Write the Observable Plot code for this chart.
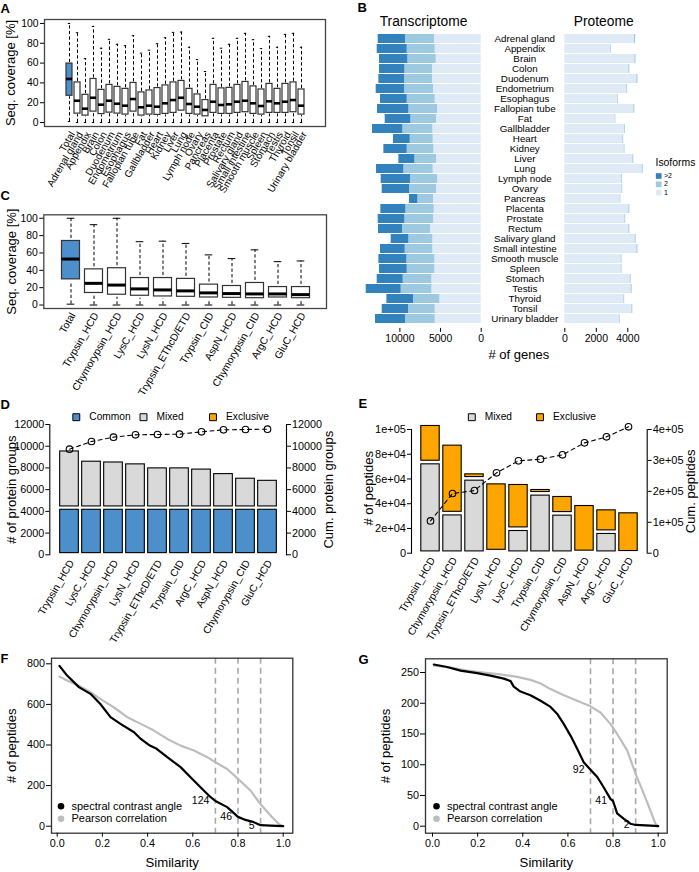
<!DOCTYPE html>
<html><head><meta charset="utf-8">
<script src="https://cdn.jsdelivr.net/npm/d3@7"></script>
<script src="https://cdn.jsdelivr.net/npm/@observablehq/plot@0.6"></script>
<style>
html,body{margin:0;padding:0;background:#fff;}
#fig{position:relative;width:699px;height:872px;overflow:hidden;}
#fig svg{position:absolute;left:0;top:0;}
</style></head><body><div id="fig"></div>
<script>
// ---------- DATA ----------
const tissues = ["Adrenal gland","Appendix","Brain","Colon","Duodenum","Endometrium","Esophagus","Fallopian tube","Fat","Gallbladder","Heart","Kidney","Liver","Lung","Lymph node","Ovary","Pancreas","Placenta","Prostate","Rectum","Salivary gland","Small intestine","Smooth muscle","Spleen","Stomach","Testis","Thyroid","Tonsil","Urinary bladder"];

// Panel A: sequence coverage boxplots per tissue
const aLabels = ["Total", ...tissues];
const aMax = [100, 90.6, 64.5, 97, 75, 84, 79, 77.6, 87.6, 70, 73, 79.6, 85.6, 91, 91.3, 76, 63.5, 51.5, 85, 75, 79, 85, 90, 83.6, 74.6, 87, 76, 89, 90, 76];
const aQ3  = [60.5, 41.5, 29, 45, 34, 39, 37, 35, 41, 31.4, 33.4, 35.8, 38.5, 41.5, 43, 35, 29.4, 23.7, 39, 35.5, 36, 39, 42, 37.5, 34.4, 40, 35, 40, 41.5, 34.4];
const aMed = [44, 22, 14, 25, 18, 22, 19, 17, 23.7, 15.4, 17, 16, 19.4, 22.7, 25, 18.7, 16, 12.7, 21, 17.7, 18.4, 21, 22, 19.4, 16.7, 21.4, 19.4, 21, 22.7, 17];
const aQ1  = [26, 8, 6, 10, 7.5, 9, 8, 7, 10, 6, 7, 6.7, 7.7, 8.7, 11, 7.7, 7, 5.3, 8.7, 7.7, 7.7, 8.7, 9.4, 7.7, 7, 8.7, 8.7, 8.7, 9.4, 7];
const aMin = [1, 0, 0, 0, 0, 0, 0, 0, 0, 0, 0, 0, 0, 0, 0, 0, 0, 0, 0, 0, 0, 0, 0, 0, 0, 0, 0, 0, 0, 0];

// Panel B: genes per isoform count
const isoKeys = [">2", "2", "1"];
const tx1 = [5740,5658,5535,5986,5986,5863,5658,5371,5494,5945,5904,5822,5494,5904,5371,5494,5863,5781,5863,6232,5945,5945,5699,5699,6068,6068,5084,5658,5658];
const tx2 = [3567,3444,3485,3403,3444,3567,3444,3526,3157,3690,2829,3280,2665,3608,3321,3321,1927,3485,3526,3444,2952,3403,3444,3403,3526,3772,3239,3280,3649];
const tx3 = [3362,3690,3485,3116,3157,3485,3280,3854,3157,3731,2050,2870,1968,3362,3608,3362,1025,3075,3280,2952,2173,3034,3444,3403,3198,4305,3280,3239,3690];
const px1 = [4427,2903,4448,4067,4575,3940,3369,4384,3199,3792,3686,3771,4321,4914,3601,3623,3517,4067,3813,4067,4469,4575,3580,3580,4152,4215,3750,4257,3474];
const px2 = [70,40,70,60,70,50,40,60,40,50,50,50,60,60,50,50,40,60,50,60,60,70,50,50,60,60,50,60,40];

// Panel C: coverage per protease/fragmentation
const cLabels = ["Total","Trypsin_HCD","Chymorypsin_HCD","LysC_HCD","LysN_HCD","Trypsin_EThcD/ETD","Trypsin_CID","AspN_HCD","Chymorypsin_CID","ArgC_HCD","GluC_HCD"];
const cMax = [100, 92.6, 100, 73, 73.6, 71, 57.8, 53.5, 63.6, 50, 50.8];
const cQ3  = [76.7, 44, 45.3, 34, 34, 33, 26.4, 24.8, 28.3, 23.6, 23.6];
const cMed = [53, 25, 23, 18.6, 17.4, 16.3, 14, 13.2, 12.8, 12.8, 12];
const cQ1  = [26.7, 11, 9, 7.8, 7, 6.6, 5.8, 5.4, 5, 5.8, 5];
const cMin = [1, 0, 0, 0, 0, 0, 0, 0, 0, 0, 0];

// Panel D: protein groups
const dLabels = ["Trypsin_HCD","LysC_HCD","Chymorypsin_HCD","LysN_HCD","Trypsin_EThcD/ETD","Trypsin_CID","ArgC_HCD","AspN_HCD","Chymorypsin_CID","GluC_HCD"];
const dKeys = ["Common","Mixed","Exclusive"];
const dCommon = [4300,4300,4300,4300,4300,4300,4300,4300,4300,4300];
const dMixed = [5370,4427,4355,4182,3813,3813,3701,3285,2861,2667];
const dExclusive = [60,50,30,80,20,20,70,180,20,30];
const dCum = [9729,10435,10834,11049,11080,11110,11325,11509,11540,11570];

// Panel E: peptides
const eLabels = ["Trypsin_HCD","Chymorypsin_HCD","Trypsin_EThcD/ETD","LysN_HCD","LysC_HCD","Trypsin_CID","Chymorypsin_CID","AspN_HCD","ArgC_HCD","GluC_HCD"];
const eKeys = ["Mixed","Exclusive"];
const eMixed = [73300,32000,60100,1300,19400,48000,31800,600,17000,300];
const eExclusive = [31000,56400,5100,55800,37200,4550,15100,39000,19100,33400];
const eCum = [104300,193000,202700,259800,298600,304000,318000,356800,376200,408600];

// Panel F: similarity curves
const fBlackX = [0.01,0.044,0.096,0.147,0.19,0.236,0.28,0.34,0.37,0.41,0.44,0.487,0.546,0.59,0.634,0.671,0.70,0.752,0.80,0.833,0.87,0.90,0.944,1.0];
const fBlackY = [790,742,685,652,603,537,504,463,430,397,381,340,291,241,192,151,124,94,46,31,20,5,3,0];
const fGrayX = [0.01,0.044,0.103,0.147,0.19,0.25,0.31,0.37,0.428,0.487,0.546,0.605,0.664,0.70,0.752,0.80,0.855,0.90,0.944,0.98,1.0];
const fGrayY = [737,718,688,660,627,586,537,504,471,430,397,373,340,315,282,233,176,108,53,11,0];
const fAnnX = [0.7,0.8,0.9];
const fAnnY = [124,46,5];

// Panel G
const gBlackX = [0.006,0.065,0.124,0.198,0.257,0.316,0.346,0.36,0.39,0.434,0.479,0.523,0.552,0.582,0.612,0.641,0.67,0.70,0.73,0.759,0.789,0.80,0.818,0.848,0.877,0.90,0.966,1.0];
const gBlackY = [263,259,253,249,245,240,236,227,219,213,204,194,183,166,147,126,104,92,80,63,44,41,21,12,4,2,1,0];
const gGrayX = [0.006,0.08,0.154,0.227,0.3,0.375,0.434,0.479,0.523,0.582,0.641,0.70,0.744,0.789,0.818,0.863,0.90,0.936,0.966,0.988,1.0];
const gGrayY = [261,258,253,250,247,243,238,232,223,213,204,195,185,166,150,123,85,53,25,4,0];
const gAnnX = [0.7,0.8,0.9];
const gAnnY = [92,41,2];

const legendCurves = ["spectral contrast angle", "Pearson correlation"];

// ---------- STYLE ----------
const FONT = '"Liberation Sans", Arial, Helvetica, sans-serif';
const W = 699, H = 872;
const BLUE = "#4d8fcb";
const GRAY = "#d9d9d9";
const ORANGE = "#ffa500";
const BLUES = ["#3182bd", "#9ecae1", "#deebf7"];
const DASH = "3.3,2.3";
const MID = {lineAnchor: "middle"};

function box(l, t, r, b) { return {marginLeft: l, marginTop: t, marginRight: W - r, marginBottom: H - b}; }
function panel(opts) {
  const svg = Plot.plot({width: W, height: H,
    style: {background: "transparent", fontFamily: FONT, fontSize: "10.5px", overflow: "visible", maxWidth: "none"},
    ...opts});
  document.getElementById("fig").appendChild(svg);
}
function fmtE(v) {
  if (v === 0) return "0";
  const e = Math.floor(Math.log10(v) + 1e-9);
  const m = Math.round(v / Math.pow(10, e) * 100) / 100;
  return m + "e+" + String(e).padStart(2, "0");
}
const rowsBox = (labels, mx, q3, md, q1, mn) => labels.map((name, i) => ({name, max: mx[i], q3: q3[i], med: md[i], q1: q1[i], min: mn[i]}));

function boxMarks(rows, boxInset, capInset, medW) {
  return [
    Plot.ruleX(rows, {x: "name", y1: "q3", y2: "max", strokeDasharray: DASH, strokeWidth: 1}),
    Plot.ruleX(rows, {x: "name", y1: "min", y2: "q1", strokeDasharray: DASH, strokeWidth: 1}),
    Plot.tickY(rows, {x: "name", y: "max", insetLeft: capInset, insetRight: capInset, strokeWidth: 1}),
    Plot.tickY(rows, {x: "name", y: "min", insetLeft: capInset, insetRight: capInset, strokeWidth: 1}),
    Plot.barY(rows.filter(d => d.name === "Total"), {x: "name", y1: "q1", y2: "q3", fill: BLUE, stroke: "#333", strokeWidth: 1.2, inset: boxInset}),
    Plot.barY(rows.filter(d => d.name !== "Total"), {x: "name", y1: "q1", y2: "q3", fill: "white", stroke: "#333", strokeWidth: 1.2, inset: boxInset}),
    Plot.tickY(rows, {x: "name", y: "med", strokeWidth: medW, insetLeft: boxInset, insetRight: boxInset})
  ];
}
const letter = (t, dx, dy) => Plot.text([t], {frameAnchor: "top-left", textAnchor: "start", ...MID, dx, dy, fontSize: 13, fontWeight: "bold"});
const vTitle = (t, anchor, dx, dy = 0) => Plot.text([t], {frameAnchor: anchor, rotate: -90, textAnchor: "middle", ...MID, dx, dy, fontSize: 13});
const xLabels = (labels, dx, dy, fs) => Plot.text(labels, {x: d => d, frameAnchor: "bottom", rotate: -60, textAnchor: "end", ...MID, dx, dy, fontSize: fs});

// ---------- PANEL A ----------
panel({
  ...box(44, 19, 325, 126),
  x: {type: "band", domain: aLabels, range: [53.9, 315.5], padding: 0, axis: null},
  y: {domain: [-4, 104], label: null},
  marks: [
    ...boxMarks(rowsBox(aLabels, aMax, aQ3, aMed, aQ1, aMin), 1, 2.8, 2.6),
    Plot.frame({stroke: "#444", strokeWidth: 1.3}),
    Plot.axisY({ticks: [0,20,40,60,80,100], tickSize: 4, tickPadding: 2, label: null, fontSize: 10.4}),
    xLabels(aLabels, 3, 6, 10),
    vTitle("Seq. coverage [%]", "left", -33.5),
    letter("A", -44, -11)
  ]
});

// ---------- PANEL C ----------
panel({
  ...box(43.3, 214.3, 326, 308),
  x: {type: "band", domain: cLabels, range: [54.87, 315.47], padding: 0, axis: null},
  y: {domain: [-4, 104], label: null},
  marks: [
    ...boxMarks(rowsBox(cLabels, cMax, cQ3, cMed, cQ1, cMin), 2.5, 7.7, 3),
    Plot.frame({stroke: "#444", strokeWidth: 1.3}),
    Plot.axisY({ticks: [0,20,40,60,80,100], tickSize: 4, tickPadding: 2, label: null, fontSize: 10.4}),
    xLabels(cLabels, 2, 5, 10.3),
    vTitle("Seq. coverage [%]", "left", -32.3),
    letter("C", -43.3, -19.3)
  ]
});

// ---------- PANEL B ----------
const tLong = [], pLong = [];
tissues.forEach((t, i) => {
  tLong.push({tissue: t, iso: "1", n: tx1[i]}, {tissue: t, iso: "2", n: tx2[i]}, {tissue: t, iso: ">2", n: tx3[i]});
  pLong.push({tissue: t, iso: "1", n: px1[i]}, {tissue: t, iso: "2", n: px2[i]});
});
const bY = {type: "band", domain: tissues, paddingInner: 0.1, paddingOuter: 0.05, axis: null};
const bColor = {domain: isoKeys, range: BLUES};
panel({
  ...box(365, 29.5, 481, 327.9),
  x: {domain: [0, 10000], range: [480.7, 399.4], label: null},
  y: bY, color: bColor,
  marks: [
    Plot.barX(tLong, Plot.stackX({y: "tissue", x: "n", z: "iso", fill: "iso"})),
    Plot.axisX({ticks: [0, 5000, 10000], tickFormat: d => String(d), tickSize: 4, tickPadding: 2, label: null, fontSize: 10.5}),
    Plot.text(tissues, {y: d => d, frameAnchor: "right", dx: 43.3, textAnchor: "middle", ...MID, fontSize: 9.8}),
    Plot.text(["Transcriptome"], {frameAnchor: "top", ...MID, dy: -8.5, fontSize: 13.8}),
    Plot.text(["# of genes"], {frameAnchor: "bottom-right", textAnchor: "middle", ...MID, dx: 37.3, dy: 26.5, fontSize: 13}),
    letter("B", -8, -22)
  ]
});
const isoDy = [146, 154.3, 162.6];
panel({
  ...box(564.3, 29.5, 642, 327.9),
  x: {domain: [0, 4000], range: [564.3, 627.3], label: null},
  y: bY, color: bColor,
  marks: [
    Plot.barX(pLong, Plot.stackX({y: "tissue", x: "n", z: "iso", fill: "iso"})),
    Plot.axisX({ticks: [0, 2000, 4000], tickFormat: d => String(d), tickSize: 4, tickPadding: 2, label: null, fontSize: 10.5}),
    Plot.text(["Proteome"], {frameAnchor: "top", ...MID, dy: -8.5, fontSize: 13.8}),
    Plot.text(["Isoforms"], {frameAnchor: "top-right", textAnchor: "start", ...MID, dx: 13, dy: 133, fontSize: 10.4}),
    ...isoKeys.map((k, i) => Plot.dot([k], {frameAnchor: "top-right", dx: 16.2, dy: isoDy[i], symbol: "square", r: 3.2, fill: d => d})),
    ...isoKeys.map((k, i) => Plot.text([k], {frameAnchor: "top-right", dx: 21.5, dy: isoDy[i] - 0.3, textAnchor: "start", ...MID, fontSize: 7}))
  ]
});

// ---------- PANEL D ----------
const dLong = [];
dLabels.forEach((l, i) => {
  dLong.push({label: l, key: "Common", n: dCommon[i]}, {label: l, key: "Mixed", n: dMixed[i]}, {label: l, key: "Exclusive", n: dExclusive[i]});
});
const dCumRows = dLabels.map((l, i) => ({label: l, cum: dCum[i]}));
const dTicks = [0, 2000, 4000, 6000, 8000, 10000, 12000];
const dLegDx = [26.5, 93.7, 163.2];
panel({
  ...box(49.3, 424, 286, 554.3),
  x: {type: "band", domain: dLabels, range: [56.5, 279.8], padding: 0, axis: null},
  y: {domain: [0, 12000], label: null},
  color: {domain: dKeys, range: [BLUE, GRAY, ORANGE]},
  marks: [
    Plot.barY(dLong, Plot.stackY({x: "label", y: "n", z: "key", fill: "key", stroke: "black", strokeWidth: 1.1, inset: 1.67})),
    Plot.line(dCumRows, {x: "label", y: "cum", strokeDasharray: "4,3.5", strokeWidth: 1.1}),
    Plot.dot(dCumRows, {x: "label", y: "cum", r: 3.3, stroke: "black", strokeWidth: 1.1, fill: "none"}),
    Plot.frame({anchor: "left", strokeWidth: 1.1}),
    Plot.frame({anchor: "right", strokeWidth: 1.1}),
    Plot.axisY({anchor: "left", ticks: dTicks, tickFormat: d => String(d), tickSize: 4, tickPadding: 1.5, label: null, fontSize: 10.8}),
    Plot.axisY({anchor: "right", ticks: dTicks, tickFormat: d => String(d), tickSize: 4, tickPadding: 1.5, label: null, fontSize: 10.8}),
    xLabels(dLabels, 2, 6, 10.3),
    vTitle("# of protein groups", "left", -38.3),
    vTitle("Cum. protein groups", "right", 42),
    ...dKeys.map((k, i) => Plot.dot([k], {frameAnchor: "top-left", dx: dLegDx[i], dy: -7.3, symbol: "square", r: 3.9, fill: d => d, stroke: "black", strokeWidth: 1})),
    ...dKeys.map((k, i) => Plot.text([k], {frameAnchor: "top-left", dx: dLegDx[i] + 13, dy: -7.3, textAnchor: "start", ...MID, fontSize: 10.2})),
    letter("D", -49.3, -20)
  ]
});

// ---------- PANEL E ----------
const eLong = [];
eLabels.forEach((l, i) => {
  eLong.push({label: l, key: "Mixed", n: eMixed[i]}, {label: l, key: "Exclusive", n: eExclusive[i]});
});
const RIGHT_RATIO = 4; // right axis spans 4x left axis
const eCumRows = eLabels.map((l, i) => ({label: l, cum: eCum[i] / RIGHT_RATIO}));
const eLegDx = [60.3, 128.5];
panel({
  ...box(411, 429, 646.7, 552.7),
  x: {type: "band", domain: eLabels, range: [417.2, 639.9], padding: 0, axis: null},
  y: {domain: [0, 100000], label: null},
  color: {domain: eKeys, range: [GRAY, ORANGE]},
  marks: [
    Plot.barY(eLong, Plot.stackY({x: "label", y: "n", z: "key", fill: "key", stroke: "black", strokeWidth: 1.1, inset: 1.8})),
    Plot.line(eCumRows, {x: "label", y: "cum", strokeDasharray: "4,3.5", strokeWidth: 1.1}),
    Plot.dot(eCumRows, {x: "label", y: "cum", r: 3.3, stroke: "black", strokeWidth: 1.1, fill: "none"}),
    Plot.frame({anchor: "left", strokeWidth: 1.1}),
    Plot.frame({anchor: "right", strokeWidth: 1.1}),
    Plot.axisY({anchor: "left", ticks: [0, 20000, 40000, 60000, 80000, 100000], tickFormat: fmtE, tickSize: 4, tickPadding: 1.5, label: null, fontSize: 11}),
    Plot.axisY({anchor: "right", ticks: [0, 25000, 50000, 75000, 100000], tickFormat: d => fmtE(d * RIGHT_RATIO), tickSize: 4, tickPadding: 1.5, label: null, fontSize: 11}),
    xLabels(eLabels, 2, 5, 10.3),
    vTitle("# of peptides", "left", -43, -3),
    vTitle("Cum. peptides", "right", 43.3),
    ...eKeys.map((k, i) => Plot.dot([k], {frameAnchor: "top-left", dx: eLegDx[i], dy: -12.3, symbol: "square", r: 3.9, fill: d => d, stroke: "black", strokeWidth: 1})),
    ...eKeys.map((k, i) => Plot.text([k], {frameAnchor: "top-left", dx: eLegDx[i] + 13, dy: -12.3, textAnchor: "start", ...MID, fontSize: 10.2})),
    letter("E", -53, -26)
  ]
});

// ---------- PANELS F & G ----------
function simPanel({frame, xRange, yMax, yRange, yTicks, black, gray, ann, letterName, letterDx, legDx}) {
  const [l, t, r, b] = frame;
  const blackRows = black[0].map((x, i) => ({x, y: black[1][i]}));
  const grayRows = gray[0].map((x, i) => ({x, y: gray[1][i]}));
  const annRows = ann[0].map((x, i) => ({x, y: ann[1][i], label: String(ann[1][i])}));
  panel({
    ...box(l, t, r, b),
    x: {domain: [0, 1], range: xRange, label: null},
    y: {domain: [0, yMax], range: yRange, label: null},
    marks: [
      Plot.ruleX([0.7, 0.8, 0.9], {stroke: "#a8a8a8", strokeWidth: 1.6, strokeDasharray: "6,4"}),
      Plot.line(grayRows, {x: "x", y: "y", stroke: "#bdbdbd", strokeWidth: 2.2}),
      Plot.line(blackRows, {x: "x", y: "y", stroke: "black", strokeWidth: 2.2}),
      Plot.text(annRows, {x: "x", y: "y", text: "label", textAnchor: "end", dx: -6, fontSize: 10.5}),
      Plot.frame({stroke: "#333", strokeWidth: 1.3}),
      Plot.axisX({ticks: [0, 0.2, 0.4, 0.6, 0.8, 1], tickFormat: d => d.toFixed(1), tickSize: 4, tickPadding: 2, label: null, fontSize: 10.8}),
      Plot.axisY({ticks: yTicks, tickFormat: d => String(d), tickSize: 5, tickPadding: 1.5, label: null, fontSize: 10.8}),
      vTitle("# of peptides", "left", -40),
      Plot.text(["Similarity"], {frameAnchor: "bottom", ...MID, dy: 30, fontSize: 13.2}),
      Plot.dot([legendCurves[0]], {frameAnchor: "bottom-left", dx: legDx, dy: -27, r: 3.3, fill: "black"}),
      Plot.dot([legendCurves[1]], {frameAnchor: "bottom-left", dx: legDx, dy: -14.4, r: 3.3, fill: "#bdbdbd"}),
      Plot.text([legendCurves[0]], {frameAnchor: "bottom-left", dx: legDx + 10.5, dy: -27, textAnchor: "start", ...MID, fontSize: 11}),
      Plot.text([legendCurves[1]], {frameAnchor: "bottom-left", dx: legDx + 10.5, dy: -14.4, textAnchor: "start", ...MID, fontSize: 11}),
      letter(letterName, letterDx, 0.8)
    ]
  });
}
simPanel({frame: [51, 657.7, 292.3, 832.7], xRange: [56.7, 282.7], yMax: 800, yRange: [825.7, 663.3],
  yTicks: [0, 200, 400, 600, 800], black: [fBlackX, fBlackY], gray: [fGrayX, fGrayY], ann: [fAnnX, fAnnY],
  letterName: "F", letterDx: -51, legDx: 9.5});
simPanel({frame: [425, 658.3, 666.7, 832.7], xRange: [432, 657.7], yMax: 250, yRange: [825.7, 672],
  yTicks: [0, 50, 100, 150, 200, 250], black: [gBlackX, gBlackY], gray: [gGrayX, gGrayY], ann: [gAnnX, gAnnY],
  letterName: "G", letterDx: -67, legDx: 11});
</script></body></html>
